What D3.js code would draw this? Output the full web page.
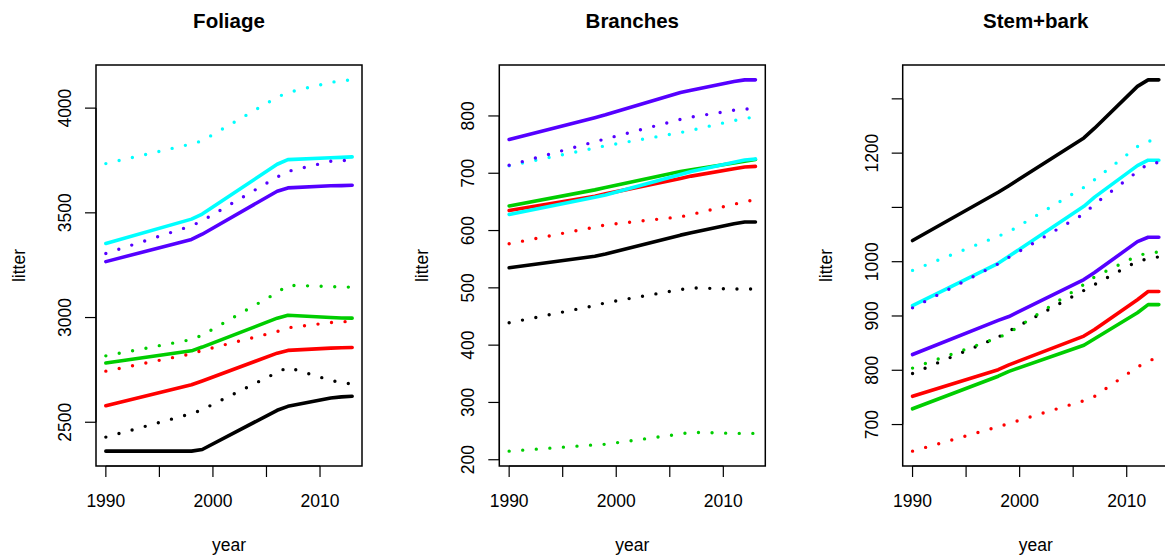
<!DOCTYPE html>
<html>
<head>
<meta charset="utf-8">
<script src="https://cdn.jsdelivr.net/npm/d3@7"></script>
<style>
  body { margin: 0; background: #fff; }
  svg { display: block; font-family: "Liberation Sans", Arial, Helvetica, sans-serif; }
</style>
</head>
<body>
<div id="chart"></div>
<script>
// Litter by compartment, 1990-2013
const years = [1990, 1998, 1999, 2006, 2007, 2011, 2012, 2013];
const seriesColors = ['#000000', '#ff0000', '#00cd00', '#00ffff', '#5500ff'];

const foliageSolid = [
  [2362, 2362, 2370, 2557, 2576, 2616, 2621, 2624],
  [2579, 2679, 2697, 2830, 2843, 2854, 2856, 2857],
  [2783, 2841, 2859, 2997, 3011, 3000, 2998, 2997],
  [3354, 3470, 3494, 3732, 3754, 3763, 3765, 3767],
  [3267, 3373, 3398, 3603, 3619, 3629, 3630, 3632]
];
const foliageDotted = [
  [2429, 2541, 2560, 2738, 2762, 2700, 2690, 2682],
  [2744, 2827, 2843, 2933, 2951, 2976, 2979, 2983],
  [2817, 2895, 2916, 3119, 3154, 3148, 3146, 3145],
  [3735, 3829, 3844, 4052, 4075, 4123, 4130, 4135],
  [3306, 3438, 3462, 3671, 3698, 3746, 3749, 3752]
];

const branchesSolid = [
  [535, 555, 559, 592, 596, 612, 615, 615],
  [635, 660, 664, 691, 695, 708, 711, 712],
  [643, 671, 675, 703, 706, 718, 721, 724],
  [628, 658, 662, 698, 703, 719, 723, 725],
  [759, 797, 802, 841, 845, 860, 863, 863]
];
const branchesDotted = [
  [439, 469, 474, 497, 500, 498, 498, 498],
  [577, 606, 610, 624, 628, 646, 650, 654],
  [215, 226, 227, 245, 248, 246, 246, 246],
  [713, 744, 748, 771, 775, 792, 795, 799],
  [714, 755, 760, 794, 798, 810, 812, 813]
];

const stemSolid = [
  [1039, 1128, 1140, 1228, 1246, 1323, 1335, 1335],
  [752, 801, 810, 863, 875, 930, 945, 945],
  [729, 789, 798, 846, 858, 906, 921, 921],
  [919, 997, 1010, 1102, 1119, 1177, 1187, 1187],
  [829, 892, 899, 967, 980, 1037, 1045, 1045]
];
const stemDotted = [
  [794, 861, 872, 947, 958, 1001, 1005, 1009],
  [651, 696, 702, 744, 752, 806, 816, 826],
  [804, 860, 869, 958, 972, 1011, 1016, 1018],
  [984, 1047, 1055, 1137, 1151, 1212, 1222, 1225],
  [915, 996, 1008, 1088, 1106, 1166, 1180, 1183]
];

const panelTitles = ['Foliage', 'Branches', 'Stem+bark'];
const xTicks = [1990, 1995, 2000, 2005, 2010];
const xTickLabels = [1990, 2000, 2010];
const foliageTicks = [2500, 3000, 3500, 4000];
const branchesTicks = [200, 300, 400, 500, 600, 700, 800];
const stemTicks = [700, 800, 900, 1000, 1100, 1200, 1300];
const stemTickLabels = [700, 800, 900, 1000, 1200];

const panels = [
  { title: panelTitles[0], solid: foliageSolid, dotted: foliageDotted, ticks: foliageTicks, labels: foliageTicks },
  { title: panelTitles[1], solid: branchesSolid, dotted: branchesDotted, ticks: branchesTicks, labels: branchesTicks },
  { title: panelTitles[2], solid: stemSolid, dotted: stemDotted, ticks: stemTicks, labels: stemTickLabels }
];

const width = 1165, height = 559;
const boxLefts = [96, 499.3, 902.7];
const boxW = 266, boxTop = 65, boxBottom = 466;
const tickFont = 17.5;

const svg = d3.select('#chart').append('svg')
  .attr('width', width)
  .attr('height', height);

// R style axis range: data range padded by 4% on each side
function padded(lo, hi) {
  const r = hi - lo;
  return [lo - 0.04 * r, hi + 0.04 * r];
}

panels.forEach((p, i) => {
  const left = boxLefts[i];
  const allVals = p.solid.flat().concat(p.dotted.flat());
  const x = d3.scaleLinear()
    .domain(padded(d3.min(years), d3.max(years)))
    .range([left, left + boxW]);
  const y = d3.scaleLinear()
    .domain(padded(d3.min(allVals), d3.max(allVals)))
    .range([boxBottom, boxTop]);

  const g = svg.append('g');

  const line = d3.line()
    .x((d, k) => x(years[k]))
    .y(d => y(d));

  // solid lines first, dotted on top
  p.solid.forEach((s, k) => {
    g.append('path')
      .attr('d', line(s))
      .attr('fill', 'none')
      .attr('stroke', seriesColors[k])
      .attr('stroke-width', 3.6)
      .attr('stroke-linejoin', 'round')
      .attr('stroke-linecap', 'round');
  });
  p.dotted.forEach((s, k) => {
    g.append('path')
      .attr('d', line(s))
      .attr('fill', 'none')
      .attr('stroke', seriesColors[k])
      .attr('stroke-width', 3.4)
      .attr('stroke-dasharray', '0 13.6')
      .attr('stroke-linecap', 'round');
  });

  // frame
  g.append('rect')
    .attr('x', left)
    .attr('y', boxTop)
    .attr('width', boxW)
    .attr('height', boxBottom - boxTop)
    .attr('fill', 'none')
    .attr('stroke', '#000')
    .attr('stroke-width', 1.5);

  // x axis
  const xAxis = g.append('g').attr('transform', `translate(0,${boxBottom})`);
  xAxis.append('line')
    .attr('x1', x(xTicks[0])).attr('x2', x(xTicks[xTicks.length - 1]))
    .attr('stroke', '#000').attr('stroke-width', 1.2);
  xAxis.selectAll('line.tick')
    .data(xTicks)
    .enter().append('line')
    .attr('class', 'tick')
    .attr('x1', d => x(d)).attr('x2', d => x(d))
    .attr('y1', 0).attr('y2', 11)
    .attr('stroke', '#000').attr('stroke-width', 1.2);
  xAxis.selectAll('text')
    .data(xTickLabels)
    .enter().append('text')
    .attr('x', d => x(d))
    .attr('y', 41)
    .attr('text-anchor', 'middle')
    .attr('font-size', tickFont)
    .text(d => d);

  // y axis
  const yAxis = g.append('g').attr('transform', `translate(${left},0)`);
  yAxis.append('line')
    .attr('y1', y(p.ticks[0])).attr('y2', y(p.ticks[p.ticks.length - 1]))
    .attr('stroke', '#000').attr('stroke-width', 1.2);
  yAxis.selectAll('line.tick')
    .data(p.ticks)
    .enter().append('line')
    .attr('class', 'tick')
    .attr('y1', d => y(d)).attr('y2', d => y(d))
    .attr('x1', 0).attr('x2', -11)
    .attr('stroke', '#000').attr('stroke-width', 1.2);
  yAxis.selectAll('text')
    .data(p.labels)
    .enter().append('text')
    .attr('transform', d => `translate(-25,${y(d)}) rotate(-90)`)
    .attr('text-anchor', 'middle')
    .attr('font-size', tickFont)
    .text(d => d);

  // axis titles
  g.append('text')
    .attr('x', left + boxW / 2)
    .attr('y', 551)
    .attr('text-anchor', 'middle')
    .attr('font-size', tickFont)
    .text('year');
  g.append('text')
    .attr('transform', `translate(${left - 71},${(boxTop + boxBottom) / 2}) rotate(-90)`)
    .attr('text-anchor', 'middle')
    .attr('font-size', tickFont)
    .text('litter');

  // panel title
  g.append('text')
    .attr('x', left + boxW / 2)
    .attr('y', 28)
    .attr('text-anchor', 'middle')
    .attr('font-size', 20.5)
    .attr('font-weight', 'bold')
    .text(p.title);
});
</script>
</body>
</html>
